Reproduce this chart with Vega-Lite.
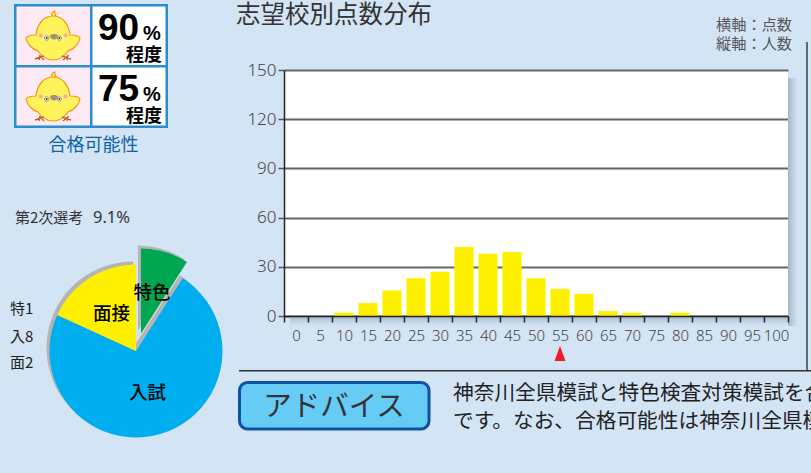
{"$schema":"https://vega.github.io/schema/vega-lite/v6.json","width":504,"height":246,"autosize":{"type":"none"},"padding":{"left":284,"top":70,"right":23,"bottom":157},"background":"#d3e4f5","view":{"fill":"#ffffff","stroke":null},
"datasets":{"scores":[{"score":0,"count":0},{"score":5,"count":0},{"score":10,"count":2},{"score":15,"count":8},{"score":20,"count":15.5},{"score":25,"count":23},{"score":30,"count":27},{"score":35,"count":42},{"score":40,"count":38},{"score":45,"count":39},{"score":50,"count":23},{"score":55,"count":16.5},{"score":60,"count":13.5},{"score":65,"count":3},{"score":70,"count":2},{"score":75,"count":0},{"score":80,"count":2},{"score":85,"count":0},{"score":90,"count":0},{"score":95,"count":0},{"score":100,"count":0}],
"pie":[{"part":"特色","rank":1,"weight":1},{"part":"入試","rank":2,"weight":8},{"part":"面接","rank":3,"weight":2}],
"marker":[{"score":55}],"deco":[{"item":"decoration"}]},
"layer":[
{"data":{"name":"deco"},"mark":{"type":"rect","x":504,"x2":514,"y":8,"y2":256,"color":{"gradient":"linear","x1":0,"x2":1,"y1":0,"y2":0,"stops":[{"offset":0,"color":"#a3b6c9"},{"offset":0.5,"color":"#c0d1e2"},{"offset":1,"color":"#d3e4f5"}]}},"encoding":{}},
{"data":{"name":"deco"},"mark":{"type":"rect","x":6,"x2":504,"y":246,"y2":256,"color":{"gradient":"linear","x1":0,"x2":0,"y1":0,"y2":1,"stops":[{"offset":0,"color":"#a3b6c9"},{"offset":0.5,"color":"#c0d1e2"},{"offset":1,"color":"#d3e4f5"}]}},"encoding":{}},
{"data":{"name":"deco"},"mark":{"type":"rect","x":522.3,"x2":523.7,"y":-28,"y2":300,"color":"#333333"},"encoding":{}},
{"data":{"name":"deco"},"mark":{"type":"rect","x":-45,"x2":527,"y":300,"y2":301.4,"color":"#333333"},"encoding":{}},
{"data":{"name":"scores"},"mark":{"type":"bar","color":"#fff000","width":{"band":0.8}},"encoding":{
"x":{"field":"score","type":"ordinal","sort":null,"scale":{"domain":[0,5,10,15,20,25,30,35,40,45,50,55,60,65,70,75,80,85,90,95,100],"paddingInner":0,"paddingOuter":0},"axis":{"title":null,"zindex":1,"labelAngle":0,"labelFont":"Noto Sans","labelFontSize":15,"labelFontWeight":300,"labelColor":"#444444","labelPadding":6,"labelOverlap":false,"tickBand":"extent","tickColor":"#222222","tickSize":6,"tickWidth":1.5,"domainColor":"#222222","domainWidth":1.5,"grid":false}},
"y":{"field":"count","type":"quantitative","scale":{"domain":[0,150],"nice":false},"axis":{"title":null,"values":[0,30,60,90,120,150],"grid":true,"gridColor":"#666666","gridWidth":2,"labelFont":"Noto Sans","labelFontSize":17,"labelFontWeight":300,"labelColor":"#444444","labelPadding":2,"tickColor":"#555555","tickSize":6,"tickWidth":1.5,"domainColor":"#222222","domainWidth":1.5}}}},
{"data":{"name":"marker"},"mark":{"type":"point","shape":"M0,-8L5.5,7L-5.5,7Z","size":4,"filled":true,"fill":"#ed1c24","stroke":null,"opacity":1,"y":284},"encoding":{"x":{"field":"score","type":"ordinal"}}},

{"data":{"name":"deco"},"mark":{"type":"rect","x":-270,"x2":-116,"y":-66,"y2":58,"color":"#2a8dcf"},"encoding":{}},
{"data":{"name":"deco"},"mark":{"type":"rect","x":-267.5,"x2":-194,"y":-63.5,"y2":-5,"color":"#fdeaf4"},"encoding":{}},
{"data":{"name":"deco"},"mark":{"type":"rect","x":-267.5,"x2":-194,"y":-2.5,"y2":55.5,"color":"#fdeaf4"},"encoding":{}},
{"data":{"name":"deco"},"mark":{"type":"rect","x":-191.5,"x2":-118.5,"y":-63.5,"y2":-5,"color":"#ffffff"},"encoding":{}},
{"data":{"name":"deco"},"mark":{"type":"rect","x":-191.5,"x2":-118.5,"y":-2.5,"y2":55.5,"color":"#ffffff"},"encoding":{}},

{"data":{"name":"deco"},"mark":{"type":"point","x":-231,"y":-32,"size":4,"filled":true,"opacity":1,"fill":"#fff35c","stroke":"#f7941d","strokeWidth":1.2,"shape":"M0,-22C10,-22 16,-13 17,-3C20,-3 25,-3 27,0C26,6 21,11 15,13C11,19 6,22 0,22C-6,22 -11,19 -15,13C-21,11 -26,6 -27,0C-25,-3 -20,-3 -17,-3C-16,-13 -10,-22 0,-22Z M-1,-22C-2,-25 0,-27 2,-27C1,-25 2,-24 3,-22Z"},"encoding":{}},
{"data":{"name":"deco"},"mark":{"type":"point","x":-231,"y":29,"size":4,"filled":true,"opacity":1,"fill":"#fff35c","stroke":"#f7941d","strokeWidth":1.2,"shape":"M0,-22C10,-22 16,-13 17,-3C20,-3 25,-3 27,0C26,6 21,11 15,13C11,19 6,22 0,22C-6,22 -11,19 -15,13C-21,11 -26,6 -27,0C-25,-3 -20,-3 -17,-3C-16,-13 -10,-22 0,-22Z M-1,-22C-2,-25 0,-27 2,-27C1,-25 2,-24 3,-22Z"},"encoding":{}},
{"data":{"name":"deco"},"mark":{"type":"point","x":-231,"y":-32,"size":4,"filled":true,"opacity":1,"fill":"#f9a9a0","stroke":null,"shape":"M-14,-2.5a2,2 0 1 0 4,0a2,2 0 1 0 -4,0Z M10.5,-2.5a2,2 0 1 0 4,0a2,2 0 1 0 -4,0Z"},"encoding":{}},
{"data":{"name":"deco"},"mark":{"type":"point","x":-231,"y":29,"size":4,"filled":true,"opacity":1,"fill":"#f9a9a0","stroke":null,"shape":"M-14,-2.5a2,2 0 1 0 4,0a2,2 0 1 0 -4,0Z M10.5,-2.5a2,2 0 1 0 4,0a2,2 0 1 0 -4,0Z"},"encoding":{}},
{"data":{"name":"deco"},"mark":{"type":"point","x":-231,"y":-32,"size":4,"filled":true,"opacity":1,"fill":"#ffffff","stroke":"#8c8c8c","strokeWidth":1,"shape":"M-8.5,0a2.2,2.2 0 1 0 4.4,0a2.2,2.2 0 1 0 -4.4,0Z M4.1,0a2.2,2.2 0 1 0 4.4,0a2.2,2.2 0 1 0 -4.4,0Z"},"encoding":{}},
{"data":{"name":"deco"},"mark":{"type":"point","x":-231,"y":29,"size":4,"filled":true,"opacity":1,"fill":"#ffffff","stroke":"#8c8c8c","strokeWidth":1,"shape":"M-8.5,0a2.2,2.2 0 1 0 4.4,0a2.2,2.2 0 1 0 -4.4,0Z M4.1,0a2.2,2.2 0 1 0 4.4,0a2.2,2.2 0 1 0 -4.4,0Z"},"encoding":{}},
{"data":{"name":"deco"},"mark":{"type":"point","x":-231,"y":-32,"size":4,"filled":true,"opacity":1,"fill":"#444444","stroke":null,"shape":"M-7.3,0a1,1 0 1 0 2,0a1,1 0 1 0 -2,0Z M5.3,0a1,1 0 1 0 2,0a1,1 0 1 0 -2,0Z"},"encoding":{}},
{"data":{"name":"deco"},"mark":{"type":"point","x":-231,"y":29,"size":4,"filled":true,"opacity":1,"fill":"#444444","stroke":null,"shape":"M-7.3,0a1,1 0 1 0 2,0a1,1 0 1 0 -2,0Z M5.3,0a1,1 0 1 0 2,0a1,1 0 1 0 -2,0Z"},"encoding":{}},
{"data":{"name":"deco"},"mark":{"type":"point","x":-231,"y":-32,"size":4,"filled":true,"opacity":1,"fill":"#a8916f","stroke":null,"shape":"M-3,-2.5C-2,-4.5 4,-4.5 5,-2.5C5,0 3,1.5 1,1.5C-1,1.5 -3,0 -3,-2.5Z"},"encoding":{}},
{"data":{"name":"deco"},"mark":{"type":"point","x":-231,"y":29,"size":4,"filled":true,"opacity":1,"fill":"#a8916f","stroke":null,"shape":"M-3,-2.5C-2,-4.5 4,-4.5 5,-2.5C5,0 3,1.5 1,1.5C-1,1.5 -3,0 -3,-2.5Z"},"encoding":{}},
{"data":{"name":"deco"},"mark":{"type":"point","x":-231,"y":-32,"size":4,"filled":false,"opacity":1,"fill":null,"stroke":"#b5652b","strokeWidth":1.4,"shape":"M-9,18L-18,21M-13,17L-14,22M-13,18L-9,22M9,18L18,21M15,17L14,22M15,18L10,22"},"encoding":{}},
{"data":{"name":"deco"},"mark":{"type":"point","x":-231,"y":29,"size":4,"filled":false,"opacity":1,"fill":null,"stroke":"#b5652b","strokeWidth":1.4,"shape":"M-9,18L-18,21M-13,17L-14,22M-13,18L-9,22M9,18L18,21M15,17L14,22M15,18L10,22"},"encoding":{}},

{"data":{"values":[{"label":"志望校別点数分布"}]},"mark":{"type":"text","x":-48,"y":-54,"align":"left","baseline":"middle","font":"Noto Sans CJK JP","fontSize":24.5,"color":"#333333"},"encoding":{"text":{"field":"label"}}},
{"data":{"values":[{"label":"横軸：点数"}]},"mark":{"type":"text","x":508,"y":-45,"align":"right","baseline":"middle","font":"Noto Sans CJK JP","fontSize":15.2,"color":"#555555"},"encoding":{"text":{"field":"label"}}},
{"data":{"values":[{"label":"縦軸：人数"}]},"mark":{"type":"text","x":508,"y":-26,"align":"right","baseline":"middle","font":"Noto Sans CJK JP","fontSize":15.2,"color":"#555555"},"encoding":{"text":{"field":"label"}}},
{"data":{"values":[{"label":"90"}]},"mark":{"type":"text","x":-186,"y":-30.5,"align":"left","baseline":"alphabetic","font":"Liberation Sans","fontWeight":"bold","fontSize":37,"color":"#000000"},"encoding":{"text":{"field":"label"}}},
{"data":{"values":[{"label":"75"}]},"mark":{"type":"text","x":-186,"y":30.5,"align":"left","baseline":"alphabetic","font":"Liberation Sans","fontWeight":"bold","fontSize":37,"color":"#000000"},"encoding":{"text":{"field":"label"}}},
{"data":{"values":[{"label":"%"}]},"mark":{"type":"text","x":-141,"y":-30,"align":"left","baseline":"alphabetic","font":"Liberation Sans","fontWeight":"bold","fontSize":20,"color":"#000000"},"encoding":{"text":{"field":"label"}}},
{"data":{"values":[{"label":"%"}]},"mark":{"type":"text","x":-141,"y":30.5,"align":"left","baseline":"alphabetic","font":"Liberation Sans","fontWeight":"bold","fontSize":20,"color":"#000000"},"encoding":{"text":{"field":"label"}}},
{"data":{"values":[{"label":"程度"}]},"mark":{"type":"text","x":-122,"y":-14.5,"align":"right","baseline":"middle","font":"Noto Sans CJK JP","fontWeight":"bold","fontSize":18,"color":"#000000"},"encoding":{"text":{"field":"label"}}},
{"data":{"values":[{"label":"程度"}]},"mark":{"type":"text","x":-122,"y":46.5,"align":"right","baseline":"middle","font":"Noto Sans CJK JP","fontWeight":"bold","fontSize":18,"color":"#000000"},"encoding":{"text":{"field":"label"}}},
{"data":{"values":[{"label":"合格可能性"}]},"mark":{"type":"text","x":-190.5,"y":76,"align":"center","baseline":"middle","font":"Noto Sans CJK JP","fontSize":18,"color":"#0b63a5"},"encoding":{"text":{"field":"label"}}},
{"data":{"values":[{"label":"第2次選考"}]},"mark":{"type":"text","x":-269,"y":147.5,"align":"left","baseline":"middle","font":"Noto Sans CJK JP","fontSize":15,"color":"#333333"},"encoding":{"text":{"field":"label"}}},
{"data":{"values":[{"label":"9.1%"}]},"mark":{"type":"text","x":-191,"y":148,"align":"left","baseline":"middle","font":"Noto Sans","fontSize":16.5,"color":"#333333"},"encoding":{"text":{"field":"label"}}},
{"data":{"values":[{"label":"特1"}]},"mark":{"type":"text","x":-274,"y":239,"align":"left","baseline":"middle","font":"Noto Sans CJK JP","fontSize":15,"color":"#222222"},"encoding":{"text":{"field":"label"}}},
{"data":{"values":[{"label":"入8"}]},"mark":{"type":"text","x":-274,"y":267,"align":"left","baseline":"middle","font":"Noto Sans CJK JP","fontSize":15,"color":"#222222"},"encoding":{"text":{"field":"label"}}},
{"data":{"values":[{"label":"面2"}]},"mark":{"type":"text","x":-274,"y":292.5,"align":"left","baseline":"middle","font":"Noto Sans CJK JP","fontSize":15,"color":"#222222"},"encoding":{"text":{"field":"label"}}},

{"data":{"name":"pie"},"transform":[{"stack":"weight","sort":[{"field":"rank"}],"as":["a0","a1"]},{"filter":"datum.rank>1"}],"mark":{"type":"arc","outerRadius":86.5,"x":-151,"y":278,"color":"#b4b4b4"},"encoding":{"theta":{"field":"a0","type":"quantitative","scale":{"domain":[0,11],"range":[0,6.28318]}},"theta2":{"field":"a1"}}},
{"data":{"name":"pie"},"transform":[{"stack":"weight","sort":[{"field":"rank"}],"as":["a0","a1"]},{"filter":"datum.rank>1"}],"mark":{"type":"arc","outerRadius":86.5,"x":-148,"y":281},"encoding":{"theta":{"field":"a0","type":"quantitative","scale":{"domain":[0,11],"range":[0,6.28318]}},"theta2":{"field":"a1"},"color":{"field":"part","type":"nominal","legend":null,"scale":{"domain":["特色","入試","面接"],"range":["#00a650","#00aeef","#fff000"]}}}},
{"data":{"name":"pie"},"transform":[{"stack":"weight","sort":[{"field":"rank"}],"as":["a0","a1"]},{"filter":"datum.rank==1"}],"mark":{"type":"arc","outerRadius":85,"x":-146,"y":260.5,"color":"#b4b4b4"},"encoding":{"theta":{"field":"a0","type":"quantitative","scale":{"domain":[0,11],"range":[0,6.28318]}},"theta2":{"field":"a1"}}},
{"data":{"name":"pie"},"transform":[{"stack":"weight","sort":[{"field":"rank"}],"as":["a0","a1"]},{"filter":"datum.rank==1"}],"mark":{"type":"arc","outerRadius":85,"x":-143,"y":263.5},"encoding":{"theta":{"field":"a0","type":"quantitative","scale":{"domain":[0,11],"range":[0,6.28318]}},"theta2":{"field":"a1"},"color":{"field":"part","type":"nominal","legend":null}}},
{"data":{"values":[{"label":"特色"}]},"mark":{"type":"text","x":-132,"y":223,"align":"center","baseline":"middle","font":"Noto Sans CJK JP","fontWeight":500,"fontSize":18.5,"color":"#000000"},"encoding":{"text":{"field":"label"}}},
{"data":{"values":[{"label":"面接"}]},"mark":{"type":"text","x":-172.5,"y":244,"align":"center","baseline":"middle","font":"Noto Sans CJK JP","fontWeight":500,"fontSize":18.5,"color":"#000000"},"encoding":{"text":{"field":"label"}}},
{"data":{"values":[{"label":"入試"}]},"mark":{"type":"text","x":-136.5,"y":322.5,"align":"center","baseline":"middle","font":"Noto Sans CJK JP","fontWeight":500,"fontSize":18.5,"color":"#000000"},"encoding":{"text":{"field":"label"}}},

{"data":{"name":"deco"},"mark":{"type":"rect","x":-44.5,"x2":145,"y":312.5,"y2":359,"cornerRadius":8,"fill":"#66ccf5","stroke":"#0e52a4","strokeWidth":3,"opacity":1},"encoding":{}},
{"data":{"values":[{"label":"アドバイス"}]},"mark":{"type":"text","x":50,"y":337,"align":"center","baseline":"middle","font":"Noto Sans CJK JP","fontSize":28.5,"color":"#333333"},"encoding":{"text":{"field":"label"}}},
{"data":{"values":[{"label":"神奈川全県模試と特色検査対策模試を合"}]},"mark":{"type":"text","x":169,"y":324,"align":"left","baseline":"middle","font":"Noto Sans CJK JP","fontSize":20.7,"color":"#222222"},"encoding":{"text":{"field":"label"}}},
{"data":{"values":[{"label":"です。なお、合格可能性は神奈川全県模"}]},"mark":{"type":"text","x":169,"y":352,"align":"left","baseline":"middle","font":"Noto Sans CJK JP","fontSize":20.7,"color":"#222222"},"encoding":{"text":{"field":"label"}}}
]}
